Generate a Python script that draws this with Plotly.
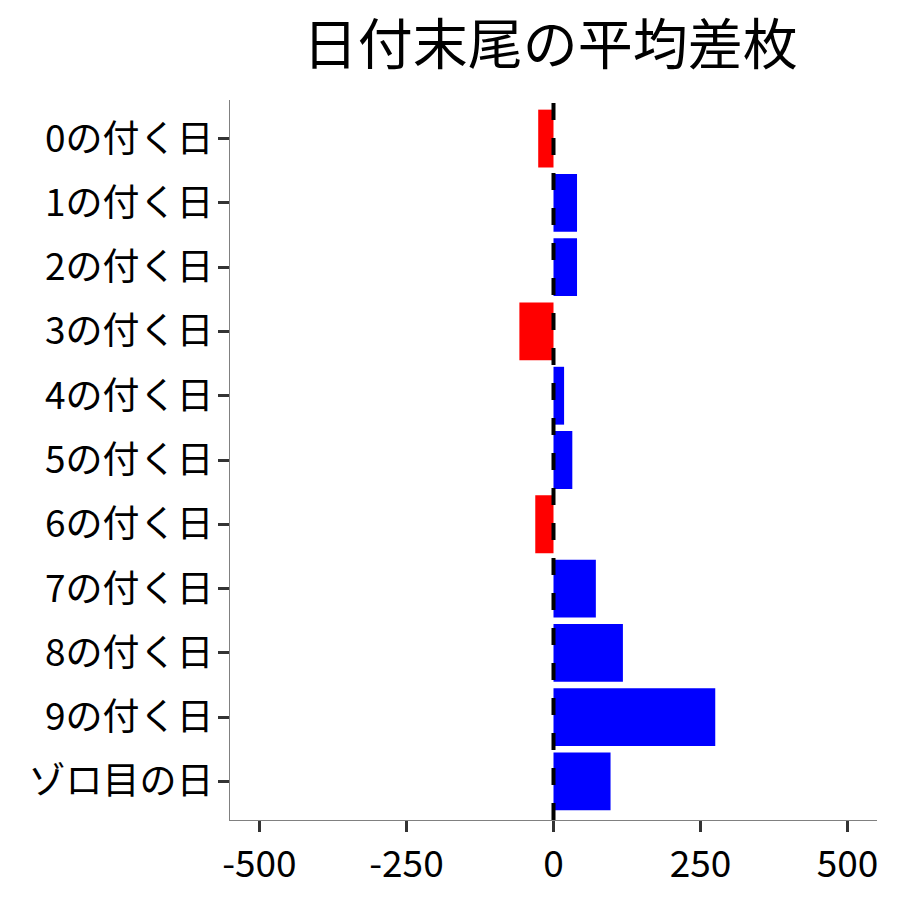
import plotly.graph_objects as go

# ----------------------------
# data
# ----------------------------
day_labels = [
    "0の付く日", "1の付く日", "2の付く日", "3の付く日", "4の付く日",
    "5の付く日", "6の付く日", "7の付く日", "8の付く日", "9の付く日",
    "ゾロ目の日",
]
avg_diff = [-26, 40, 40, -58, 18, 32, -31, 72, 118, 275, 97]

x_ticks = [-500, -250, 0, 250, 500]

bar_colors = ["#0000FF" if v >= 0 else "#FF0000" for v in avg_diff]

FONT = "Noto Sans CJK JP"

# ----------------------------
# plot
# ----------------------------
fig = go.Figure()

fig.add_trace(go.Bar(
    x=avg_diff,
    y=day_labels,
    orientation="h",
    width=0.9,
    marker=dict(color=bar_colors, line=dict(width=0)),
    showlegend=False,
))

# zero reference line (dashed)
fig.add_shape(
    type="line",
    xref="x", yref="paper",
    x0=0, x1=0, y0=0, y1=1,
    line=dict(color="black", width=4, dash="17px,18px"),
    layer="above",
)

# page body adds ~8px offset, so the figure is a bit smaller than 900
fig.update_layout(
    width=892,
    height=892,
    paper_bgcolor="white",
    plot_bgcolor="white",
    margin=dict(l=222, r=23, t=92, b=72),
    font=dict(family=FONT, color="black"),
    title=dict(
        text="日付末尾の平均差枚",
        font=dict(family=FONT, size=55, color="black"),
        x=0.495, xref="paper", xanchor="center",
        y=0.98, yref="container", yanchor="top",
    ),
    bargap=0.1,
)

fig.update_xaxes(
    range=[-550, 550],
    tickvals=x_ticks,
    ticktext=[str(v) for v in x_ticks],
    showgrid=False,
    zeroline=False,
    showline=True,
    linecolor="#808080",
    linewidth=1.2,
    ticks="outside",
    ticklen=11,
    tickwidth=3,
    tickcolor="#333333",
    tickfont=dict(family=FONT, size=37, color="black"),
)

fig.update_yaxes(
    type="category",
    categoryorder="array",
    categoryarray=day_labels,
    range=[len(day_labels) - 0.4, -0.6],
    showgrid=False,
    zeroline=False,
    showline=True,
    linecolor="#808080",
    linewidth=1.2,
    ticks="outside",
    ticklen=11,
    tickwidth=3,
    tickcolor="#333333",
    tickfont=dict(family=FONT, size=37, color="black"),
    ticklabelstandoff=-3,
)

fig.write_html("out.html")
